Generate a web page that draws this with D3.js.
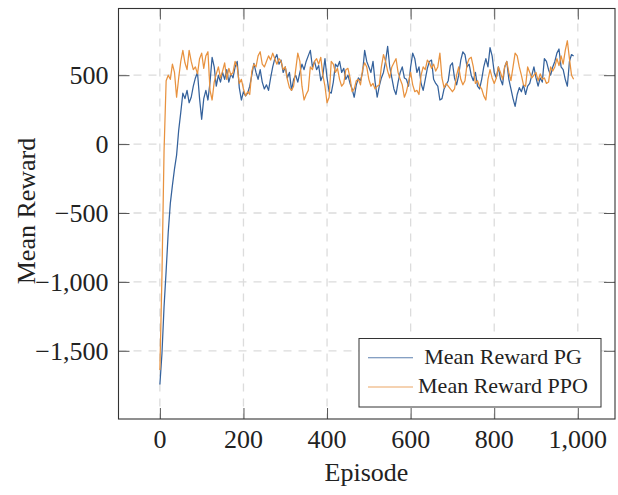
<!DOCTYPE html>
<html><head><meta charset="utf-8">
<script src="https://cdn.jsdelivr.net/npm/d3@7"></script>
<style>body{margin:0;background:#fff}svg{display:block}</style>
</head><body>
<svg id="c" width="618" height="495"></svg>
<script>
const episodeStep = 5;
const pgValues = [-1745,-1520,-1180,-920,-640,-430,-300,-180,-80,100,230,370,330,390,300,340,420,480,520,330,
180,330,390,320,450,630,560,420,500,450,520,470,540,450,510,480,560,600,410,320,
380,350,370,420,500,585,520,470,540,450,400,430,390,480,560,620,650,580,610,520,
560,480,520,390,470,500,450,520,580,540,600,640,680,560,600,540,570,460,500,620,
480,380,370,450,580,560,600,520,550,470,500,440,400,340,430,480,460,520,680,600,
560,520,600,450,340,420,480,520,600,710,560,480,400,360,450,520,560,480,470,420,
560,660,620,520,560,440,390,470,550,600,610,470,440,420,320,330,400,430,460,570,
590,480,430,500,610,670,650,560,580,500,460,520,420,400,470,560,620,560,700,640,
520,480,560,470,430,560,600,470,400,330,274,360,410,380,430,360,420,440,500,560,
480,420,480,450,620,600,540,500,560,600,660,690,560,540,470,420,600,650,640];
const ppoValues = [-1640,-950,-50,460,500,470,580,520,340,480,600,680,590,540,680,600,540,560,510,620,
660,550,640,670,390,320,450,510,560,480,530,590,470,550,500,520,600,560,440,470,
400,350,380,360,530,580,560,640,670,580,560,600,640,610,660,620,580,620,600,540,
560,470,410,390,420,540,660,600,420,320,360,390,560,540,600,620,580,630,500,420,
300,340,600,580,520,550,470,420,440,540,550,480,380,400,460,470,430,540,590,560,
470,420,440,400,420,430,560,650,600,530,480,560,590,620,520,470,430,340,380,450,
520,430,380,390,360,500,560,540,610,590,550,580,530,560,660,480,410,440,420,400,
380,400,500,560,470,430,460,580,620,630,560,440,460,420,400,350,320,470,540,480,
440,480,560,520,470,560,600,520,460,560,660,640,560,500,430,420,560,520,480,500,
520,460,510,470,480,440,450,560,530,560,620,570,640,580,680,750,620,500,470];
const xTicks = [0,200,400,600,800,1000];
const yTicks = [-1500,-1000,-500,0,500];
const seriesNames = ["Mean Reward PG","Mean Reward PPO"];
const seriesColors = ["#35629c","#e8923f"];

const svg = d3.select("#c");
const L = 118.5, R = 615, T = 8.5, B = 419;
const x = d3.scaleLinear().domain([-99, 1089]).range([L, R]);
const y = d3.scaleLinear().domain([-1995, 984]).range([B, T]);
const fmt = v => (v < 0 ? "\u2212" : "") + d3.format(",")(Math.abs(v));
const font = "'Liberation Serif','Times New Roman',serif";

// grid
const g = svg.append("g");
g.selectAll(".gx").data(xTicks).join("line")
  .attr("x1", d => x(d)).attr("x2", d => x(d)).attr("y1", T).attr("y2", B)
  .attr("stroke", "#dcdcdc").attr("stroke-width", 1.3).attr("stroke-dasharray", "8,7");
g.selectAll(".gy").data(yTicks).join("line")
  .attr("y1", d => y(d)).attr("y2", d => y(d)).attr("x1", L).attr("x2", R)
  .attr("stroke", "#dcdcdc").attr("stroke-width", 1.3).attr("stroke-dasharray", "8,7");

// axes with inward ticks on all sides
const tl = 11;
const axB = d3.axisBottom(x).tickValues(xTicks).tickSize(-tl).tickFormat("");
const axT = d3.axisTop(x).tickValues(xTicks).tickSize(-tl).tickFormat("");
const axL = d3.axisLeft(y).tickValues(yTicks).tickSize(-tl).tickFormat("");
const axR = d3.axisRight(y).tickValues(yTicks).tickSize(-tl).tickFormat("");
[[axB,`translate(0,${B})`],[axT,`translate(0,${T})`],[axL,`translate(${L},0)`],[axR,`translate(${R},0)`]].forEach(([a,t])=>{
  const ga = svg.append("g").attr("transform", t).call(a);
  ga.select(".domain").remove();
  ga.selectAll("line").attr("stroke", "#555").attr("stroke-width", 1);
});

// lines
const line = d3.line().x((d,i) => x(i*episodeStep)).y(d => y(d));
[pgValues, ppoValues].forEach((vals, k) => {
  svg.append("path").datum(vals).attr("d", line)
    .attr("fill", "none").attr("stroke", seriesColors[k]).attr("stroke-width", 1.25)
    .attr("stroke-linejoin", "round");
});

// frame
svg.append("rect").attr("x", L).attr("y", T).attr("width", R-L).attr("height", B-T)
  .attr("fill", "none").attr("stroke", "#333").attr("stroke-width", 1.1);

// tick labels
svg.selectAll(".xl").data(xTicks).join("text")
  .attr("x", d => x(d)).attr("y", 448).attr("text-anchor", "middle")
  .attr("font-family", font).attr("font-size", 26).attr("fill", "#222").text(fmt);
svg.selectAll(".yl").data(yTicks).join("text")
  .attr("x", 108.5).attr("y", d => y(d) + 9).attr("text-anchor", "end")
  .attr("font-family", font).attr("font-size", 26).attr("fill", "#222").text(fmt);

// axis titles
svg.append("text").attr("x", 366.5).attr("y", 480.5).attr("text-anchor", "middle")
  .attr("font-family", font).attr("font-size", 26).attr("fill", "#222").text("Episode");
svg.append("text").attr("transform", "translate(35,211) rotate(-90)").attr("text-anchor", "middle")
  .attr("font-family", font).attr("font-size", 26).attr("fill", "#222").text("Mean Reward");

// legend
const lg = svg.append("g");
lg.append("rect").attr("x", 359).attr("y", 338.5).attr("width", 242).attr("height", 68.5)
  .attr("fill", "#fff").attr("stroke", "#333").attr("stroke-width", 1);
const ly = [357.7, 387];
seriesNames.forEach((n, k) => {
  lg.append("line").attr("x1", 368).attr("x2", 413).attr("y1", ly[k]).attr("y2", ly[k])
    .attr("stroke", seriesColors[k]).attr("stroke-width", 1.1).attr("opacity", 0.8);
  lg.append("text").attr("x", 503).attr("y", ly[k] + 6).attr("text-anchor", "middle")
    .attr("font-family", font).attr("font-size", 22).attr("fill", "#222").text(n);
});
</script>
</body></html>
